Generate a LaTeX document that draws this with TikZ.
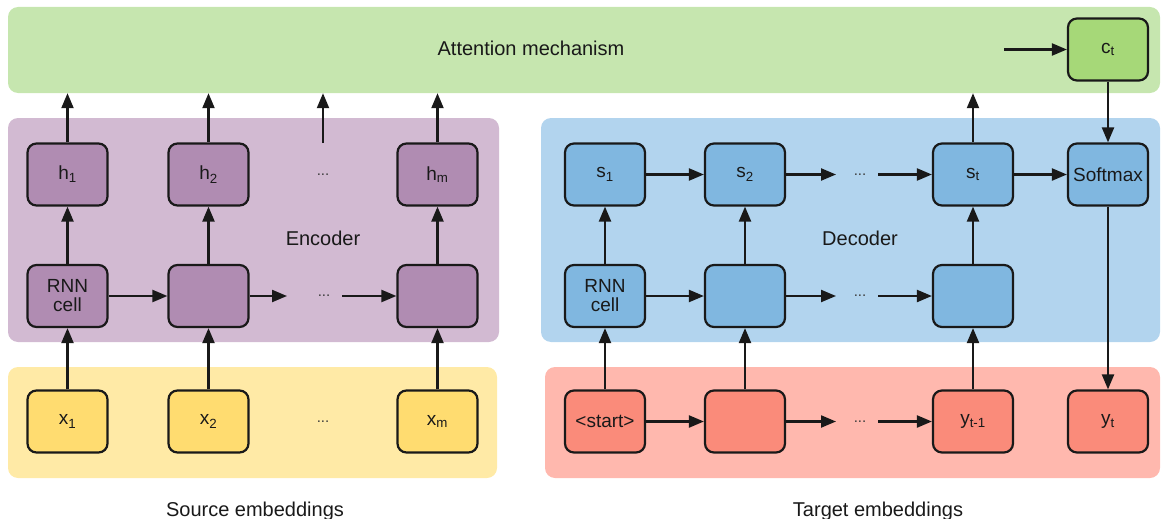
\documentclass[tikz,border=0pt]{standalone}
\usepackage{fontspec}
\setmainfont{Liberation Sans}
\usetikzlibrary{arrows.meta}
\definecolor{attbg}{RGB}{198,230,175}
\definecolor{attbox}{RGB}{166,216,120}
\definecolor{encbg}{RGB}{210,186,210}
\definecolor{encbox}{RGB}{176,140,178}
\definecolor{decbg}{RGB}{178,212,238}
\definecolor{decbox}{RGB}{128,183,224}
\definecolor{srcbg}{RGB}{255,234,166}
\definecolor{srcbox}{RGB}{255,220,112}
\definecolor{tgtbg}{RGB}{255,184,174}
\definecolor{tgtbox}{RGB}{250,139,122}
\definecolor{ink}{RGB}{25,25,25}
\begin{document}
\begin{tikzpicture}[x=1pt,y=-1pt,
  band/.style={rectangle,rounded corners=10pt,inner sep=0pt,draw=none},
  cellbox/.style={rectangle,rounded corners=9pt,draw=ink,line width=2.2pt,
    minimum width=80pt,minimum height=62pt,inner sep=0pt,align=center,
    font=\fontsize{19}{21}\selectfont,text=ink},
  lbl/.style={font=\fontsize{20}{22}\selectfont,text=ink,inner sep=0pt},
  dots/.style={font=\fontsize{15}{16}\selectfont,text=ink!85,inner sep=0pt},
  conn/.style={draw=ink,line width=2.2pt,-{Triangle[length=15pt,width=12pt]}}
]
\useasboundingbox (0,0) rectangle (1162,519);
% bands
\node[band,fill=attbg,minimum width=1152pt,minimum height=86pt] (att) at (584,50) {};
\node[band,fill=encbg,minimum width=491pt,minimum height=224pt] (enc) at (253.5,230) {};
\node[band,fill=decbg,minimum width=619pt,minimum height=224pt] (dec) at (850.5,230) {};
\node[band,fill=srcbg,minimum width=489pt,minimum height=111pt] (src) at (252.5,422.5) {};
\node[band,fill=tgtbg,minimum width=615pt,minimum height=111pt] (tgt) at (852.5,422.5) {};
% labels
\node[lbl] (attl) at (531,48) {Attention mechanism};
\node[lbl] (encl) at (323,238) {Encoder};
\node[lbl] (decl) at (860,238) {Decoder};
\node[lbl] (srcl) at (255,511) {Source embeddings};
\node[lbl] (tgtl) at (878,511) {Target embeddings};
% encoder
\node[cellbox,fill=encbox] (h1) at (67.5,174.5) {h\textsubscript{1}};
\node[cellbox,fill=encbox] (h2) at (208.5,174.5) {h\textsubscript{2}};
\node[cellbox,fill=encbox] (hm) at (437.5,174.5) {h\textsubscript{m}};
\node[cellbox,fill=encbox] (e1) at (67.5,296) {RNN\\[-2pt]cell};
\node[cellbox,fill=encbox] (e2) at (208.5,296) {};
\node[cellbox,fill=encbox] (em) at (437.5,296) {};
\node[cellbox,fill=srcbox] (x1) at (67.5,421.5) {x\textsubscript{1}};
\node[cellbox,fill=srcbox] (x2) at (208.5,421.5) {x\textsubscript{2}};
\node[cellbox,fill=srcbox] (xm) at (437.5,421.5) {x\textsubscript{m}};
\node[dots] (hd) at (323,174.5) {...};
\node[dots] (ed) at (324,296) {...};
\node[dots] (xd) at (323,421.5) {...};
\coordinate (emid) at (323,143);
\coordinate (ea) at (287,296);
\coordinate (eb) at (342,296);
% decoder
\node[cellbox,fill=decbox] (s1) at (605,174.5) {s\textsubscript{1}};
\node[cellbox,fill=decbox] (s2) at (745,174.5) {s\textsubscript{2}};
\node[cellbox,fill=decbox] (st) at (973,174.5) {s\textsubscript{t}};
\node[cellbox,fill=decbox] (sm) at (1108,174.5) {Softmax};
\node[cellbox,fill=decbox] (d1) at (605,296) {RNN\\[-2pt]cell};
\node[cellbox,fill=decbox] (d2) at (745,296) {};
\node[cellbox,fill=decbox] (dt) at (973,296) {};
\node[cellbox,fill=tgtbox] (y0) at (605,421.5) {<start>};
\node[cellbox,fill=tgtbox] (y1) at (745,421.5) {};
\node[cellbox,fill=tgtbox] (yt1) at (973,421.5) {y\textsubscript{t-1}};
\node[cellbox,fill=tgtbox] (yt) at (1108,421.5) {y\textsubscript{t}};
\node[cellbox,fill=attbox] (ct) at (1108,49.5) {c\textsubscript{t}};
\node[dots] (sd) at (860,174.5) {...};
\node[dots] (dd) at (860,296) {...};
\node[dots] (yd) at (860,421.5) {...};
\coordinate (sa) at (836,174.5);
\coordinate (sb) at (878,174.5);
\coordinate (da) at (836,296);
\coordinate (db) at (878,296);
\coordinate (ya) at (836,421.5);
\coordinate (yb) at (878,421.5);
\coordinate (cin) at (1004,49.5);
% encoder connectors
\foreach \x/\e/\h in {x1/e1/h1, x2/e2/h2, xm/em/hm}{
  \draw[conn] (\x.north) -- (\e.south);
  \draw[conn] (\e.north) -- (\h.south);
  \draw[conn] (\h.north) -- (\h.north |- att.south);
}
\draw[conn] (emid) -- (emid |- att.south);
\draw[conn] (e1.east) -- (e2.west);
\draw[conn] (e2.east) -- (ea);
\draw[conn] (eb) -- (em.west);
% decoder connectors
\foreach \y/\d/\s in {y0/d1/s1, y1/d2/s2, yt1/dt/st}{
  \draw[conn] (\y.north) -- (\d.south);
  \draw[conn] (\d.north) -- (\s.south);
}
\draw[conn] (st.north) -- (st.north |- att.south);
\draw[conn] (s1.east) -- (s2.west);
\draw[conn] (s2.east) -- (sa);
\draw[conn] (sb) -- (st.west);
\draw[conn] (st.east) -- (sm.west);
\draw[conn] (d1.east) -- (d2.west);
\draw[conn] (d2.east) -- (da);
\draw[conn] (db) -- (dt.west);
\draw[conn] (y0.east) -- (y1.west);
\draw[conn] (y1.east) -- (ya);
\draw[conn] (yb) -- (yt1.west);
\draw[conn] (cin) -- (ct.west);
\draw[conn] (ct.south) -- (sm.north);
\draw[conn] (sm.south) -- (yt.north);
\end{tikzpicture}
\end{document}
